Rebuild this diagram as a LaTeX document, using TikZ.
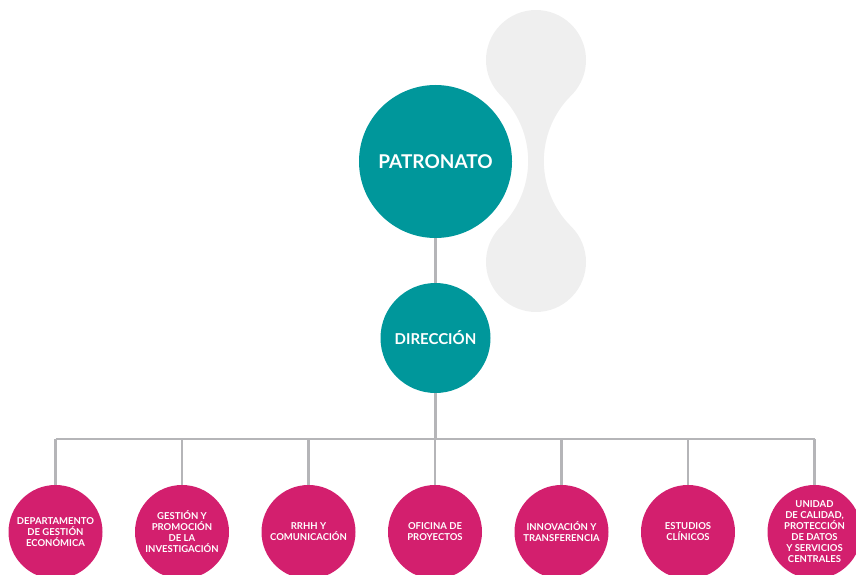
\documentclass[tikz,border=0pt]{standalone}
\usepackage{fontspec}
\setmainfont{Lato}
\definecolor{teal1}{HTML}{00979B}
\definecolor{magenta1}{HTML}{D31F6E}
\definecolor{line1}{HTML}{B5B5B8}
\definecolor{shape1}{HTML}{EFEFEF}
\begin{document}
\begin{tikzpicture}[x=1pt,y=1pt,
	topnode/.style={circle, fill=teal1, text=white, inner sep=0pt, font=\bfseries},
	deptnode/.style={circle, fill=magenta1, text=white, inner sep=0pt, minimum size=94pt, align=center, font=\fontsize{9.5}{11}\selectfont\bfseries},
	link/.style={draw=line1, line width=2.2pt}]
	\useasboundingbox (0,0) rectangle (856,574);
	\clip (0,0) rectangle (856,574);
	\fill [shape1] (536,514) ++(225.3:50) arc [start angle=225.3, end angle=-45.3, radius=50]
		arc [start angle=134.7, end angle=225.3, radius=92.1]
		arc [start angle=45.3, end angle=-225.3, radius=50]
		arc [start angle=-45.3, end angle=45.3, radius=92.1] -- cycle;
	\node [topnode, minimum size=153pt, font=\fontsize{19}{22}\selectfont\bfseries] (patronato) at (435.5,412.5) {PATRONATO};
	\node [topnode, minimum size=110pt, font=\fontsize{15}{18}\selectfont\bfseries] (direccion) at (435.5,236) {DIRECCIÓN};
	\node [deptnode] (d1) at (55.5,42) {DEPARTAMENTO\\DE GESTIÓN\\ECONÓMICA};
	\node [deptnode] (d2) at (182,42) {GESTIÓN Y\\PROMOCIÓN\\DE LA\\INVESTIGACIÓN};
	\node [deptnode] (d3) at (308.5,42) {RRHH Y\\COMUNICACIÓN};
	\node [deptnode] (d4) at (435,42) {OFICINA DE\\PROYECTOS};
	\node [deptnode] (d5) at (561.5,42) {INNOVACIÓN Y\\TRANSFERENCIA};
	\node [deptnode] (d6) at (688,42) {ESTUDIOS\\CLÍNICOS};
	\node [deptnode] (d7) at (814.5,42) {UNIDAD\\DE CALIDAD,\\PROTECCIÓN\\DE DATOS\\Y SERVICIOS\\CENTRALES};
	\coordinate (bus) at (435.5,135);
	\path [link] (patronato) -- (direccion);
	\path [link] (direccion) -- (bus);
	\path [link] (d1 |- bus) -- (d7 |- bus);
	\foreach \d in {d1,d2,d3,d4,d5,d6,d7}
		\path [link] (\d |- bus) -- (\d);
\end{tikzpicture}
\end{document}
